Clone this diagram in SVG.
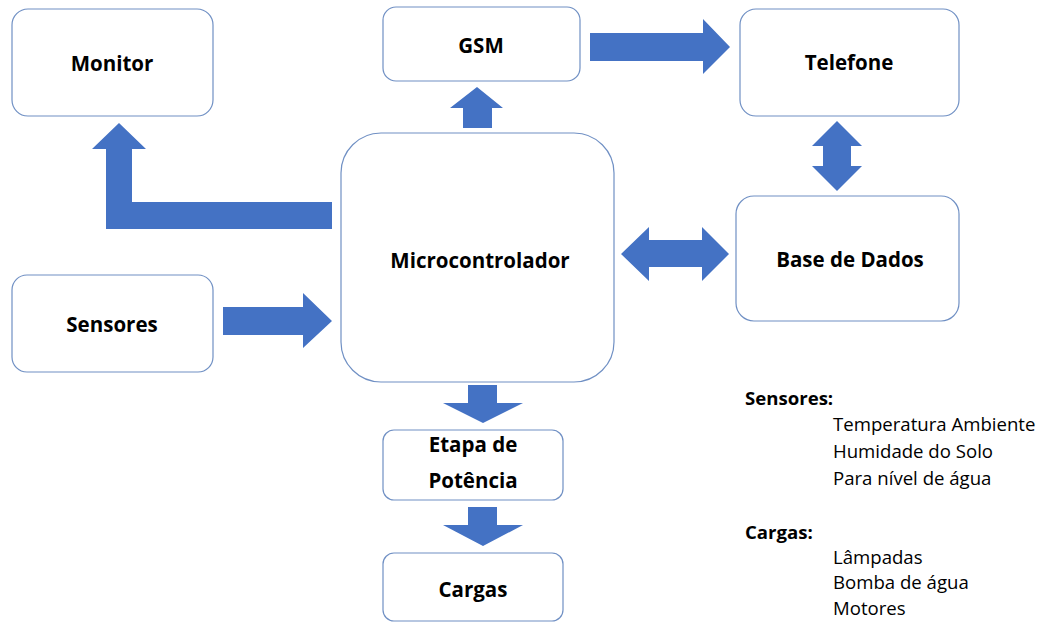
<svg xmlns="http://www.w3.org/2000/svg" width="1041" height="623" viewBox="0 0 1041 623">
<style>
.box{fill:#fff;stroke:#7090c4;stroke-width:1.2}
.arr{fill:#4472c4}
.t{font-family:"Open Sans","Noto Sans",sans-serif;font-weight:bold;font-size:20.5px;fill:#000;text-anchor:middle}
.l{font-family:"Open Sans","Noto Sans",sans-serif;font-size:18.6px;fill:#000}
.lb{font-family:"Open Sans","Noto Sans",sans-serif;font-size:18.6px;font-weight:bold;fill:#000}
</style>
<rect width="1041" height="623" fill="#fff"/>
<g id="connectors">
<path class="arr" d="M332 202 L132 202 L132 149 L146 149 L119 123 L92 149 L106 149 L106 229 L332 229 Z"/>
<path class="arr" d="M463 128 L463 108 L450 108 L477 87 L503 108 L492 108 L492 128 Z"/>
<path class="arr" d="M590 33 L703 33 L703 19 L730 47 L703 74 L703 61 L590 61 Z"/>
<path class="arr" d="M837 121 L862 146 L851 146 L851 166 L862 166 L837 191 L812 166 L823 166 L823 146 L812 146 Z"/>
<path class="arr" d="M621 254 L649 227 L649 240 L702 240 L702 227 L729 254 L702 281 L702 267 L649 267 L649 281 Z"/>
<path class="arr" d="M223 307 L303 307 L303 293 L332 321 L303 348 L303 335 L223 335 Z"/>
<path class="arr" d="M468 385 L497 385 L497 403 L523 403 L483 423 L443 403 L468 403 Z"/>
<path class="arr" d="M468 507 L497 507 L497 525 L523 525 L483 546 L443 525 L468 525 Z"/>
</g>
<g id="monitor"><rect class="box" x="12" y="9" width="201" height="107" rx="16"/><text class="t" x="112" y="71">Monitor</text></g>
<g id="gsm"><rect class="box" x="383" y="7" width="197" height="74" rx="13"/><text class="t" x="481" y="53">GSM</text></g>
<g id="telefone"><rect class="box" x="740" y="9" width="219" height="107" rx="16"/><text class="t" x="849" y="70">Telefone</text></g>
<g id="micro"><rect class="box" x="341" y="133" width="273" height="249" rx="40"/><text class="t" x="480" y="268">Microcontrolador</text></g>
<g id="basedados"><rect class="box" x="736" y="196" width="223" height="125" rx="18"/><text class="t" x="850" y="267">Base de Dados</text></g>
<g id="sensores"><rect class="box" x="12" y="275" width="201" height="97" rx="15"/><text class="t" x="112" y="332">Sensores</text></g>
<g id="etapa"><rect class="box" x="383" y="430" width="180" height="70" rx="11"/><text class="t" x="473" y="452">Etapa de</text><text class="t" x="473" y="488">Potência</text></g>
<g id="cargas"><rect class="box" x="383" y="553" width="180" height="68" rx="11"/><text class="t" x="473" y="597">Cargas</text></g>
<g id="legend">
<text class="lb" x="745" y="405">Sensores:</text>
<text class="l" x="833" y="431">Temperatura Ambiente</text>
<text class="l" x="833" y="458">Humidade do Solo</text>
<text class="l" x="833" y="485">Para nível de água</text>
<text class="lb" x="745" y="539">Cargas:</text>
<text class="l" x="833" y="564">Lâmpadas</text>
<text class="l" x="833" y="589">Bomba de água</text>
<text class="l" x="833" y="615">Motores</text>
</g>
</svg>
